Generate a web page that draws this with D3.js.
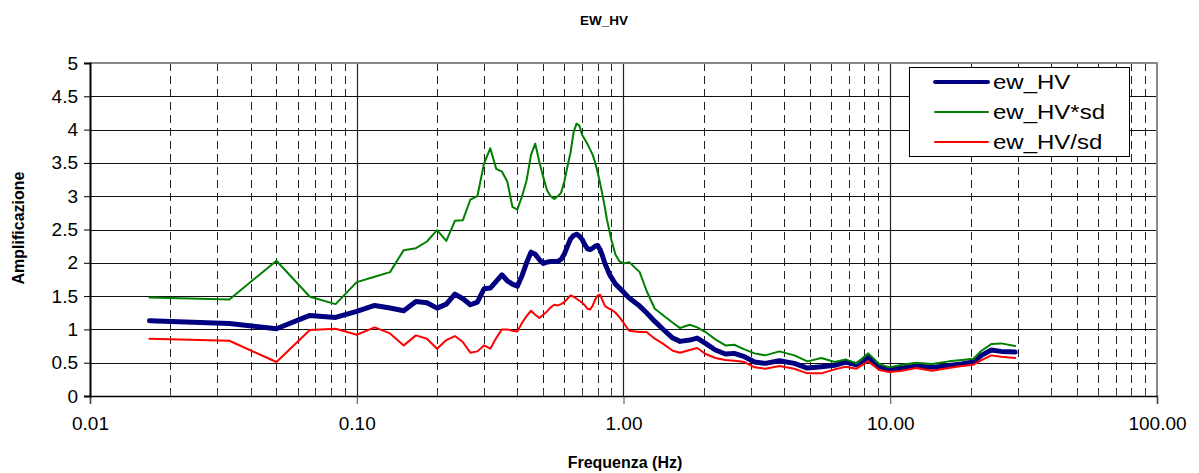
<!DOCTYPE html>
<html>
<head>
<meta charset="utf-8">
<script src="https://cdn.jsdelivr.net/npm/d3@7"></script>
<style>
  body { margin: 0; background: #fff; }
  text { font-family: Arial, "Liberation Sans", sans-serif; fill: #000; }
</style>
</head>
<body>
<svg id="chart" width="1199" height="473"></svg>
<script>
// Frequencies (Hz) of the H/V spectral ratio samples
const freq = [
  0.0167, 0.0333, 0.05, 0.0667, 0.0833, 0.1, 0.1167, 0.1333, 0.15, 0.1667,
  0.1833, 0.2, 0.2167, 0.2333, 0.25, 0.2667, 0.2833, 0.3, 0.3167, 0.3333,
  0.35, 0.3667, 0.3833, 0.4, 0.4167, 0.4333, 0.45, 0.4667, 0.4833, 0.5,
  0.5167, 0.5333, 0.55, 0.5667, 0.5833, 0.6, 0.6167, 0.6333, 0.65, 0.6667,
  0.6833, 0.7, 0.7167, 0.7333, 0.75, 0.7667, 0.7833, 0.8, 0.8167, 0.8333,
  0.85, 0.8667, 0.8833, 0.9, 0.9333, 0.9667, 1.0,
  1.05, 1.15, 1.22, 1.31, 1.40, 1.53, 1.63, 1.77, 1.89, 2.03,
  2.21, 2.41, 2.60, 2.84, 3.10, 3.40, 3.84, 4.37, 4.89, 5.52,
  6.19, 6.80, 7.47, 8.27, 9.09, 9.91, 11.08, 12.50, 14.34, 16.58,
  18.53, 20.51, 21.97, 23.92, 26.05, 29.39
];

// Mean EW H/V ratio
const ewHV = [
  1.13, 1.09, 1.01, 1.21, 1.18, 1.27, 1.36, 1.32, 1.28, 1.42,
  1.40, 1.32, 1.38, 1.53, 1.46, 1.37, 1.41, 1.61, 1.62, 1.72,
  1.82, 1.73, 1.68, 1.65, 1.81, 2.00, 2.16, 2.13, 2.05, 1.99,
  2.01, 2.02, 2.02, 2.02, 2.05, 2.13, 2.25, 2.36, 2.41, 2.43,
  2.40, 2.35, 2.27, 2.21, 2.20, 2.22, 2.25, 2.26, 2.20, 2.11,
  2.00, 1.92, 1.84, 1.78, 1.68, 1.62, 1.56,
  1.47, 1.35, 1.25, 1.12, 1.01, 0.87, 0.82, 0.84, 0.87, 0.79,
  0.69, 0.63, 0.64, 0.59, 0.51, 0.49, 0.53, 0.49, 0.42, 0.44,
  0.46, 0.51, 0.47, 0.58, 0.44, 0.40, 0.42, 0.45, 0.43, 0.46,
  0.48, 0.51, 0.61, 0.69, 0.67, 0.66
];

// Mean ratio multiplied by the standard deviation factor
const ewHVtimesSd = [
  1.48, 1.45, 2.03, 1.49, 1.38, 1.71, 1.79, 1.86, 2.19, 2.22,
  2.32, 2.49, 2.33, 2.63, 2.64, 2.95, 3.00, 3.49, 3.72, 3.41,
  3.37, 3.22, 2.84, 2.80, 3.00, 3.24, 3.62, 3.79, 3.52, 3.29,
  3.09, 3.00, 2.96, 3.00, 3.05, 3.22, 3.45, 3.66, 3.96, 4.09,
  4.06, 3.92, 3.85, 3.78, 3.70, 3.62, 3.50, 3.36, 3.20, 3.03,
  2.85, 2.65, 2.50, 2.35, 2.12, 2.02, 1.99,
  2.01, 1.86, 1.58, 1.31, 1.22, 1.10, 1.02, 1.07, 1.03, 0.96,
  0.85, 0.76, 0.77, 0.70, 0.64, 0.61, 0.67, 0.61, 0.52, 0.57,
  0.51, 0.55, 0.49, 0.64, 0.48, 0.43, 0.47, 0.50, 0.48, 0.52,
  0.54, 0.56, 0.68, 0.78, 0.79, 0.75
];

// Mean ratio divided by the standard deviation factor
const ewHVoverSd = [
  0.86, 0.83, 0.51, 0.99, 1.01, 0.92, 1.03, 0.94, 0.76, 0.91,
  0.86, 0.71, 0.84, 0.90, 0.81, 0.65, 0.67, 0.76, 0.71, 0.87,
  1.00, 1.00, 0.98, 0.97, 1.10, 1.20, 1.28, 1.22, 1.17, 1.22,
  1.27, 1.33, 1.37, 1.36, 1.38, 1.41, 1.46, 1.51, 1.49, 1.46,
  1.43, 1.40, 1.36, 1.31, 1.30, 1.36, 1.45, 1.51, 1.52, 1.44,
  1.36, 1.33, 1.31, 1.30, 1.25, 1.18, 1.10,
  0.98, 0.96, 0.96, 0.86, 0.79, 0.68, 0.65, 0.69, 0.72, 0.63,
  0.57, 0.54, 0.53, 0.51, 0.43, 0.41, 0.45, 0.41, 0.34, 0.34,
  0.40, 0.44, 0.41, 0.52, 0.39, 0.36, 0.38, 0.42, 0.38, 0.42,
  0.45, 0.47, 0.54, 0.61, 0.59, 0.57
];

const seriesNames = ["ew_HV", "ew_HV*sd", "ew_HV/sd"];
const xTickValues = [0.01, 0.1, 1, 10, 100];
const yTickValues = [0, 0.5, 1, 1.5, 2, 2.5, 3, 3.5, 4, 4.5, 5];

const chartTitle = "EW_HV";
const xTitle = "Frequenza (Hz)";
const yTitle = "Amplificazione";

// ---- layout & styling ----
const plot = { left: 90, right: 1157, top: 63, bottom: 396 };
const styles = [
  { color: "#000080", width: 5 },
  { color: "#008000", width: 2 },
  { color: "#ff0000", width: 2 }
];

const svg = d3.select("#chart");

const x = d3.scaleLog().domain([0.01, 100]).range([plot.left, plot.right]);
const y = d3.scaleLinear().domain([0, 5]).range([plot.bottom, plot.top]);

// minor decade values (2..9 x each decade)
const minorTicks = [];
[0.01, 0.1, 1, 10].forEach(d => { for (let k = 2; k <= 9; k++) minorTicks.push(d * k); });

const grid = svg.append("g");

// dashed minor verticals
grid.selectAll("line.minor").data(minorTicks).join("line")
  .attr("x1", d => Math.round(x(d)) + 0.5).attr("x2", d => Math.round(x(d)) + 0.5)
  .attr("y1", plot.top).attr("y2", plot.bottom)
  .attr("stroke", "#222").attr("stroke-width", 1).attr("stroke-dasharray", "8,5");

// solid major verticals
grid.selectAll("line.major").data(xTickValues.slice(1, -1)).join("line")
  .attr("x1", d => Math.round(x(d)) + 0.5).attr("x2", d => Math.round(x(d)) + 0.5)
  .attr("y1", plot.top).attr("y2", plot.bottom)
  .attr("stroke", "#222").attr("stroke-width", 1.2);

// horizontal gridlines
grid.selectAll("line.h").data(yTickValues.slice(1, -1)).join("line")
  .attr("x1", plot.left).attr("x2", plot.right)
  .attr("y1", d => Math.round(y(d)) + 0.5).attr("y2", d => Math.round(y(d)) + 0.5)
  .attr("stroke", "#111").attr("stroke-width", 1);

// plot frame (top & right in grey)
svg.append("path")
  .attr("d", `M${plot.left},${plot.top}H${plot.right}V${plot.bottom}`)
  .attr("fill", "none").attr("stroke", "#888").attr("stroke-width", 2);

// series
const line = d3.line().x(d => x(d[0])).y(d => y(d[1]));
const seriesValues = [ewHV, ewHVtimesSd, ewHVoverSd];
seriesValues.forEach((vals, i) => {
  svg.append("path")
    .datum(freq.map((f, j) => [f, vals[j]]))
    .attr("d", line)
    .attr("fill", "none")
    .attr("stroke", styles[i].color)
    .attr("stroke-width", styles[i].width)
    .attr("stroke-linejoin", "round")
    .attr("stroke-linecap", "round");
});

// x axis
const xAxis = d3.axisBottom(x).tickValues(xTickValues).tickFormat(d3.format(".2f")).tickSize(8);
const gx = svg.append("g").attr("transform", `translate(0,${plot.bottom})`).call(xAxis);
gx.select(".domain").attr("stroke", "#000").attr("stroke-width", 1.5);
gx.selectAll(".tick line").attr("stroke", "#444");
gx.selectAll(".tick text").attr("font-size", 19).attr("dy", "1.2em")
  .attr("font-family", "Arial, 'Liberation Sans', sans-serif");

// inner minor ticks on the x axis
svg.append("g").selectAll("line").data(minorTicks).join("line")
  .attr("x1", d => Math.round(x(d)) + 0.5).attr("x2", d => Math.round(x(d)) + 0.5)
  .attr("y1", plot.bottom - 6).attr("y2", plot.bottom)
  .attr("stroke", "#444");

// y axis
const yAxis = d3.axisLeft(y).tickValues(yTickValues).tickFormat(d3.format("")).tickSize(6).tickPadding(6);
const gy = svg.append("g").attr("transform", `translate(${plot.left},0)`).call(yAxis);
gy.select(".domain").attr("stroke", "#000").attr("stroke-width", 2);
gy.selectAll(".tick text").attr("font-size", 19)
  .attr("font-family", "Arial, 'Liberation Sans', sans-serif");

// titles
svg.append("text").attr("x", 604).attr("y", 25).attr("text-anchor", "middle")
  .attr("font-size", 13.5).attr("font-weight", "bold").text(chartTitle);
svg.append("text").attr("x", 625).attr("y", 468).attr("text-anchor", "middle")
  .attr("font-size", 16).attr("font-weight", "bold").text(xTitle);
svg.append("text").attr("transform", "translate(24,228) rotate(-90)").attr("text-anchor", "middle")
  .attr("font-size", 16).attr("font-weight", "bold").text(yTitle);

// legend
const lg = svg.append("g");
lg.append("rect").attr("x", 909.5).attr("y", 67.5).attr("width", 220).attr("height", 89)
  .attr("fill", "#fff").attr("stroke", "#000").attr("stroke-width", 1);
seriesNames.forEach((name, i) => {
  const ly = 82 + i * 30;
  lg.append("line").attr("x1", 935).attr("x2", 988).attr("y1", ly).attr("y2", ly)
    .attr("stroke", styles[i].color).attr("stroke-width", styles[i].width === 5 ? 4 : 2)
    .attr("stroke-linecap", "round");
  // legend labels are drawn slightly widened
  lg.append("text").attr("transform", `translate(993,${ly + 7}) scale(1.2,1)`)
    .attr("font-size", 20).text(name);
});
</script>
</body>
</html>
